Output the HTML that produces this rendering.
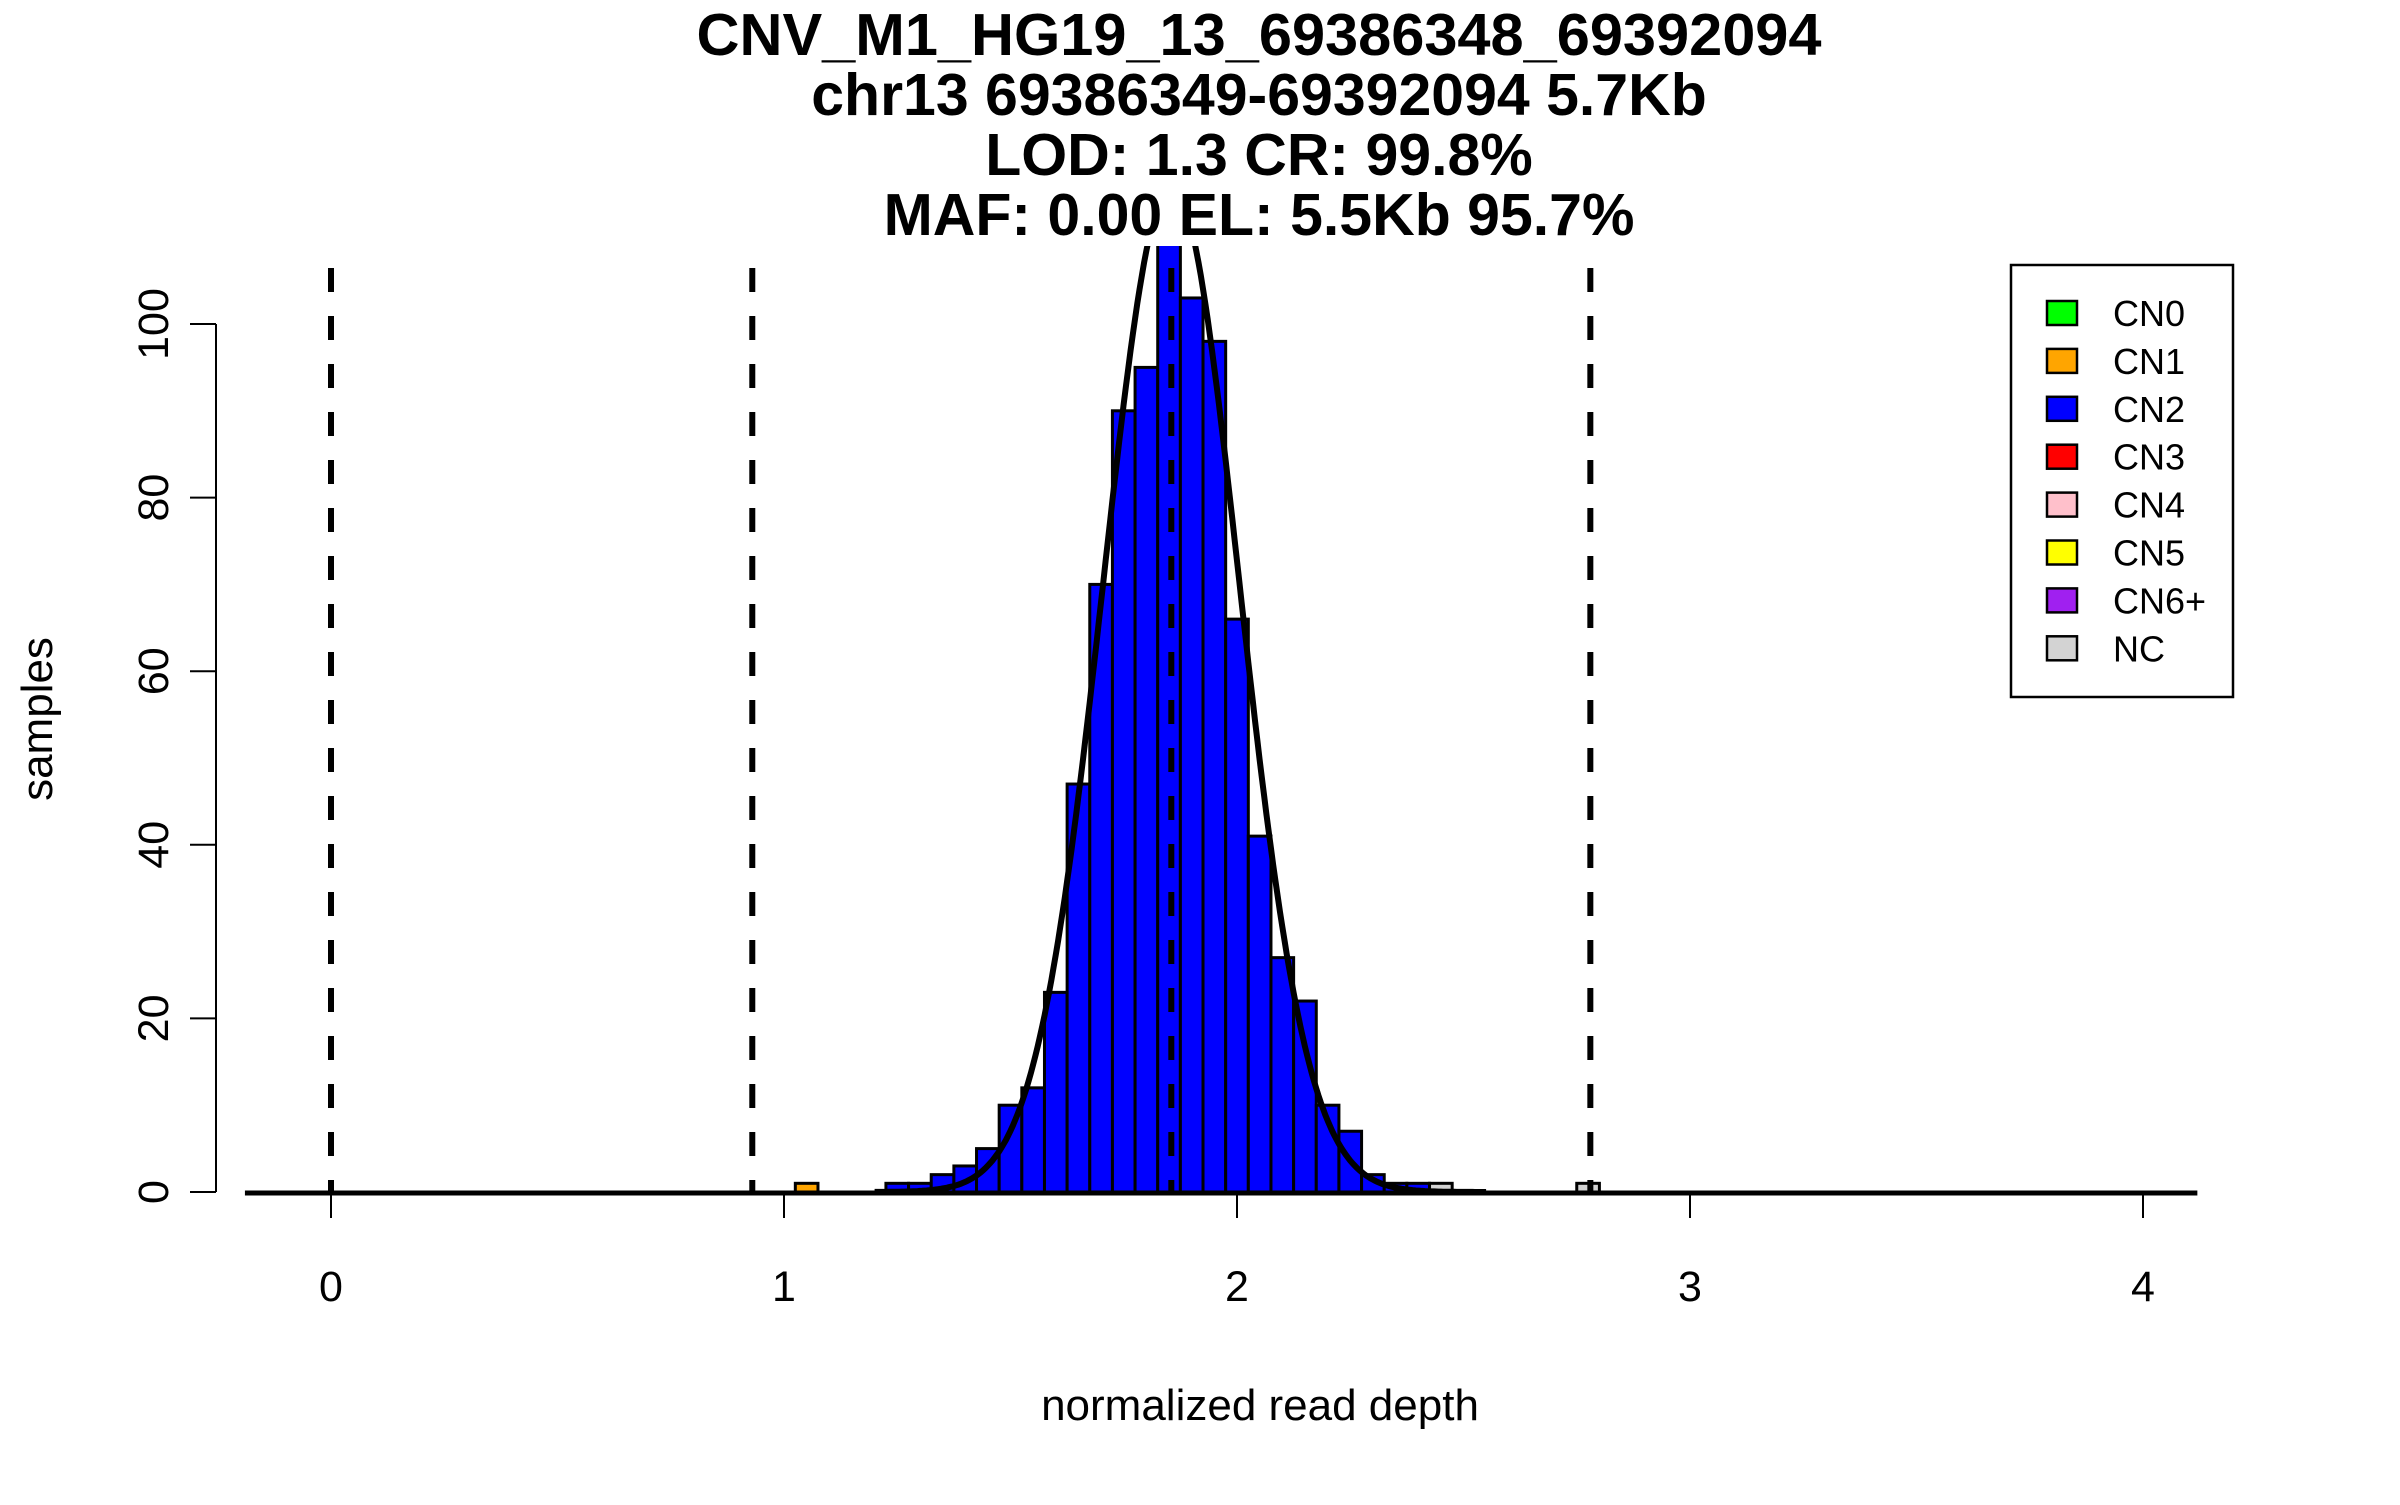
<!DOCTYPE html>
<html><head><meta charset="utf-8"><style>
html,body{margin:0;padding:0;background:#fff;}
svg text{font-family:"Liberation Sans",sans-serif;}
</style></head><body>
<svg id="chart" width="2400" height="1500" viewBox="0 0 2400 1500" xmlns="http://www.w3.org/2000/svg">
<defs><clipPath id="plotclip"><rect x="0" y="246" width="2400" height="1000"/></clipPath></defs>
<rect width="2400" height="1500" fill="#fff"/>
<g font-weight="bold" font-size="59" text-anchor="middle">
<text x="1259" y="55" textLength="1125" lengthAdjust="spacingAndGlyphs">CNV_M1_HG19_13_69386348_69392094</text>
<text x="1259" y="115">chr13 69386349-69392094 5.7Kb</text>
<text x="1259" y="175">LOD: 1.3 CR: 99.8%</text>
<text x="1259" y="235">MAF: 0.00 EL: 5.5Kb 95.7%</text>
</g>
<g clip-path="url(#plotclip)">
<g id="bars"></g>
<g id="curve"></g>
</g>
<g id="vlines"></g>
<g id="xaxis"></g>
<g id="yaxis"></g>
<text x="1260" y="1420" font-size="44" text-anchor="middle">normalized read depth</text>
<text transform="translate(52,719) rotate(-90)" font-size="44" text-anchor="middle">samples</text>
<g id="legend"></g>
</svg>
<script>
const binStarts = [1.225,1.275,1.325,1.375,1.425,1.475,1.525,1.575,1.625,1.675,1.725,1.775,1.825,1.875,1.925,1.975,2.025,2.075,2.125,2.175,2.225,2.275,2.325,2.375];
const cn2Counts = [1,1,2,3,5,10,12,23,47,70,90,95,110,103,98,66,41,27,22,10,7,2,1,1];
const otherBinStarts = [1.025,2.425,2.75];
const otherCounts = [1,1,1];
const otherColors = ['#FFA500','#D3D3D3','#D3D3D3'];
const binWidth = 0.05;
const thresholds = [0,0.93,1.855,2.78];
const gaussMean = 1.855, gaussSd = 0.15, gaussPeak = 116;
const xTicks = [0,1,2,3,4];
const yTicks = [0,20,40,60,80,100];
const legendLabels = ['CN0','CN1','CN2','CN3','CN4','CN5','CN6+','NC'];
const legendColors = ['#00FF00','#FFA500','#0000FF','#FF0000','#FFC0CB','#FFFF00','#A020F0','#D3D3D3'];

const NS='http://www.w3.org/2000/svg';
const X = v => 331 + v*453;
const Y = v => 1192 - v*8.68;
function mk(tag, parent, attrs){const e=document.createElementNS(NS,tag);for(const k in attrs)e.setAttribute(k,attrs[k]);parent.appendChild(e);return e;}

const bars=document.getElementById('bars');
binStarts.forEach((b,i)=>{
  const r=mk('rect',bars,{x:X(b),y:Y(cn2Counts[i]),width:X(b+binWidth)-X(b),height:Y(0)-Y(cn2Counts[i]),fill:'#0000FF',stroke:'#000','stroke-width':3});
  
  
});
otherBinStarts.forEach((b,i)=>{
  const r=mk('rect',bars,{x:X(b),y:Y(otherCounts[i]),width:X(b+binWidth)-X(b),height:Y(0)-Y(otherCounts[i]),fill:otherColors[i],stroke:'#000','stroke-width':3});
  
  
});

const cg=document.getElementById('curve');
let d='';
for(let v=1.2;v<=2.55;v+=0.005){const y=gaussPeak*Math.exp(-0.5*Math.pow((v-gaussMean)/gaussSd,2));d+=(d?'L':'M')+X(v).toFixed(1)+','+Y(y).toFixed(1);}
const cp=mk('path',cg,{d:d,fill:'none',stroke:'#000','stroke-width':6});


const bl=mk('line',cg,{x1:X(-0.19),x2:X(4.12),y1:Y(0)+1,y2:Y(0)+1,stroke:'#000','stroke-width':5});



const vg=document.getElementById('vlines');
thresholds.forEach(t=>{
  const l=mk('line',vg,{x1:X(t),x2:X(t),y1:268,y2:Y(0),stroke:'#000','stroke-width':6,'stroke-dasharray':'24,24'});
  
  
});

const xa=document.getElementById('xaxis');
xTicks.forEach(t=>{
  const l=mk('line',xa,{x1:X(t),x2:X(t),y1:Y(0),y2:Y(0)+26,stroke:'#000','stroke-width':2});
  
  
  const tx=mk('text',xa,{x:X(t),y:1301,'font-size':43,'text-anchor':'middle'});
  tx.textContent=t;
  
  
});

const ya=document.getElementById('yaxis');
const al=mk('line',ya,{x1:216,x2:216,y1:Y(0),y2:Y(100),stroke:'#000','stroke-width':2});


yTicks.forEach(t=>{
  const l=mk('line',ya,{x1:216,x2:190,y1:Y(t),y2:Y(t),stroke:'#000','stroke-width':2});
  
  
  const tx=mk('text',ya,{transform:`translate(168,${Y(t)}) rotate(-90)`,'font-size':43,'text-anchor':'middle'});
  tx.textContent=t;
  
  
});

const lg=document.getElementById('legend');
const box=mk('rect',lg,{x:2011,y:265,width:222,height:432,fill:'#fff',stroke:'#000','stroke-width':2.5});


legendLabels.forEach((lab,i)=>{
  const cy=313+i*47.9;
  const s=mk('rect',lg,{x:2047,y:cy-12,width:30,height:24,fill:legendColors[i],stroke:'#000','stroke-width':2.5});
  
  
  const tx=mk('text',lg,{x:2113,y:cy+13,'font-size':36});
  tx.textContent=lab;
  
  
});
</script>
</body></html>
